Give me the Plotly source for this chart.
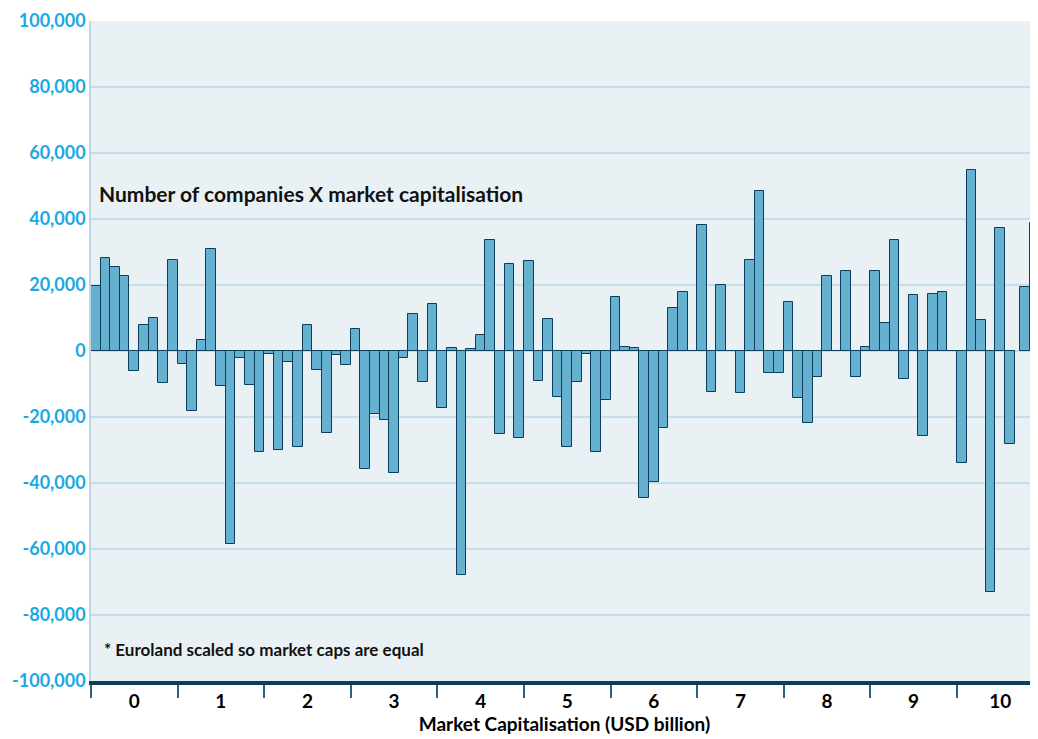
"""
Bar chart: number of companies x market capitalisation, by market cap bucket
"""
import plotly.graph_objects as go

# bar positions (in bar units; 9 bars per USD billion bucket)
bar_pos = list(range(96)) + [96.55, 97.55]

bar_values = [
    19700, 28300, 25400, 22700, -6200, 7900, 10000, -9700, 27500,
    -4000, -18300, 3200, 31000, -10500, -58500, -2100, -10200, -30700,
    -1000, -29900, -3400, -29100, 7900, -5900, -24700, -1300, -4200,
    6800, -35900, -19200, -20800, -36900, -2100, 11100, -9400, 14300,
    -17400, 1000, -67900, 600, 4900, 33700, -25000, 26300, -26400,
    27300, -9200, 9800, -13800, -29200, -9400, -1000, -30500, -14800,
    16500, 1100, 800, -44600, -39600, -23200, 12900, 17800, 0,
    38100, -12400, 20000, 0, -12800, 27500, 48400, -6800, -6700,
    15000, -14300, -21900, -8000, 22600, 0, 24200, -8000, 1100,
    24200, 8400, 33600, -8600, 17000, -25800, 17200, 17800, 0,
    -34000, 54700, 9300, -72900, 37200, -28200, 19400, 38800,
]

bucket_labels = ["0", "1", "2", "3", "4", "5", "6", "7", "8", "9", "10"]
bars_per_bucket = 9

y_ticks = [-100000, -80000, -60000, -40000, -20000, 0, 20000, 40000, 60000, 80000, 100000]
y_labels = [f"{v:,}" for v in y_ticks]

FONT = "Lato"
CYAN = "#1AA8E3"
NAVY = "#0B3D5C"

fig = go.Figure()
fig.add_trace(go.Bar(
    x=bar_pos,
    y=bar_values,
    width=1,
    marker=dict(color="#67B1D0", line=dict(color=NAVY, width=1)),
    showlegend=False,
))

centres = [bars_per_bucket * i + (bars_per_bucket - 1) / 2 for i in range(len(bucket_labels))]

# page body has an 8px margin, so the figure is sized to end at the window edge
fig.update_layout(
    width=1030, height=731,
    margin=dict(l=83, r=0, t=13, b=58),
    paper_bgcolor="white",
    plot_bgcolor="#EAF1F5",
    bargap=0,
    font=dict(family=FONT, color="black"),
    xaxis=dict(
        range=[-0.5, 97.93],
        tickmode="array",
        tickvals=centres,
        ticktext=bucket_labels,
        ticks="",
        tickfont=dict(size=19, family=FONT, weight="bold", color="black"),
        showgrid=False,
        zeroline=False,
        showline=True,
        linecolor=NAVY,
        linewidth=4,
        minor=dict(
            tickmode="linear", tick0=-0.5, dtick=bars_per_bucket,
            ticks="outside", ticklen=13, tickwidth=1.5, tickcolor="#2E5E80",
            showgrid=False,
        ),
        title=dict(
            text="Market Capitalisation (USD billion)",
            font=dict(size=19, family=FONT, weight="bold", color="black"),
            standoff=0,
        ),
    ),
    yaxis=dict(
        range=[-100000, 100000],
        tickmode="array",
        tickvals=y_ticks,
        ticktext=y_labels,
        tickfont=dict(size=18, family=FONT, weight="bold", color=CYAN),
        ticks="",
        ticklabelstandoff=0,
        gridcolor="#C6DEEB",
        gridwidth=1.5,
        zeroline=True,
        zerolinecolor="#C6DEEB",
        zerolinewidth=1.5,
        showline=True,
        linecolor="#BCD8E8",
        linewidth=1.5,
    ),
    annotations=[
        dict(
            text="Number of companies X market capitalisation",
            xref="paper", yref="paper", x=0.006, y=0.739,
            xanchor="left", yanchor="middle", showarrow=False,
            font=dict(size=21, family=FONT, weight="bold", color="#111111"),
        ),
        dict(
            text="* Euroland scaled so market caps are equal",
            xref="paper", yref="paper", x=0.012, y=0.047,
            xanchor="left", yanchor="middle", showarrow=False,
            font=dict(size=17, family=FONT, weight="bold", color="#111111"),
        ),
    ],
)

fig.write_html("out.html")
